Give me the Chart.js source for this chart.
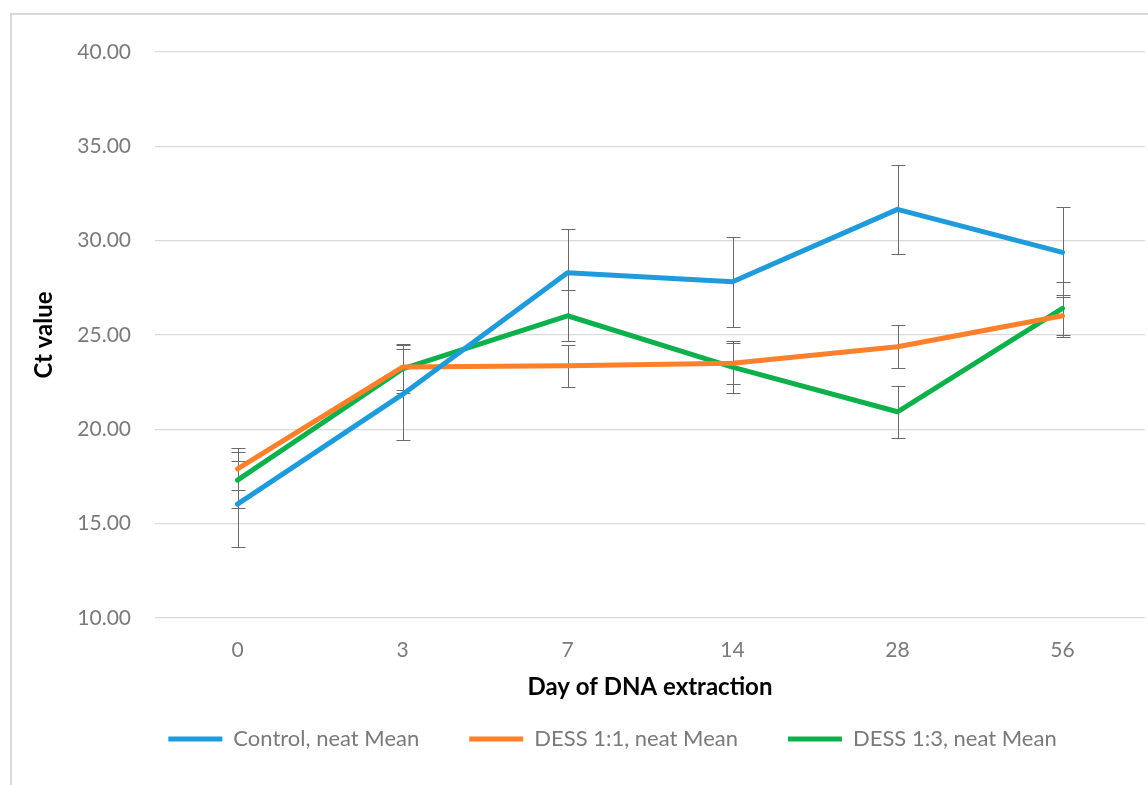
<!DOCTYPE html>
<html>
<head>
<meta charset="utf-8">
<script src="https://cdn.jsdelivr.net/npm/chart.js@4.4.0/dist/chart.umd.min.js"></script>
<style>
    html, body { margin: 0; padding: 0; background: #fff; overflow: hidden; }
    #wrap { position: relative; width: 1148px; height: 785px; }
    #frame { position: absolute; left: 10px; top: 13px; width: 1250px; height: 850px; border: 2px solid #d9d9d9; box-sizing: border-box; }
    #chart { position: absolute; left: 0; top: 0; }
</style>
</head>
<body>
<div id="wrap">
    <div id="frame"></div>
    <canvas id="chart" width="1148" height="785"></canvas>
</div>
<script>
// Day of extraction
const days = ['0', '3', '7', '14', '28', '56'];

// Mean Ct values and error bar half-widths
const controlMean = [16.04, 21.85, 28.30, 27.82, 31.66, 29.38];
const controlErr = [2.30, 2.40, 2.30, 2.37, 2.35, 2.38];
const dess11Mean = [17.90, 23.30, 23.37, 23.50, 24.38, 26.02];
const dess11Err = [1.10, 1.20, 1.10, 1.10, 1.13, 1.10];
const dess13Mean = [17.31, 23.20, 26.02, 23.30, 20.93, 26.41];
const dess13Err = [1.50, 1.25, 1.35, 1.40, 1.37, 1.40];

const yTicks = [10, 15, 20, 25, 30, 35, 40];

const FONT = 'Lato, "Open Sans", sans-serif';
const TEXT = '#7a7a7a';

// Draws the error bars under the lines
const errorBars = {
    id: 'errorBars',
    beforeDatasetsDraw(chart) {
        const { ctx, scales: { x, y } } = chart;
        ctx.save();
        ctx.strokeStyle = '#6a6a6a';
        ctx.lineWidth = 1;
        chart.data.datasets.forEach(ds => {
            ds.data.forEach((v, i) => {
                const px = Math.round(x.getPixelForValue(i)) + 0.5;
                const top = Math.round(y.getPixelForValue(v + ds.errors[i])) + 0.5;
                const bot = Math.round(y.getPixelForValue(v - ds.errors[i])) + 0.5;
                ctx.beginPath();
                ctx.moveTo(px, top);
                ctx.lineTo(px, bot);
                ctx.moveTo(px - 7, top);
                ctx.lineTo(px + 7, top);
                ctx.moveTo(px - 7, bot);
                ctx.lineTo(px + 7, bot);
                ctx.stroke();
            });
        });
        ctx.restore();
    }
};

// Legend sits a bit right of centre in the original
const legendShift = {
    id: 'legendShift',
    afterLayout(chart) {
        if (chart.legend) {
            chart.legend.left += 40;
            chart.legend.right += 40;
        }
    }
};

function makeSet(label, data, errors, color) {
    return {
        label: label,
        data: data,
        errors: errors,
        borderColor: color,
        backgroundColor: color,
        borderWidth: 5,
        borderCapStyle: 'round',
        borderJoinStyle: 'round',
        tension: 0,
        fill: false,
        pointRadius: 0,
        pointHoverRadius: 0,
        pointStyle: 'line'
    };
}

new Chart(document.getElementById('chart'), {
    type: 'line',
    data: {
        labels: days,
        datasets: [
            makeSet('Control, neat Mean', controlMean, controlErr, '#1f9bdb'),
            makeSet('DESS 1:1, neat Mean', dess11Mean, dess11Err, '#ff7f2a'),
            makeSet('DESS 1:3, neat Mean', dess13Mean, dess13Err, '#0db04b')
        ]
    },
    options: {
        responsive: false,
        animation: false,
        devicePixelRatio: 1,
        layout: {
            padding: { left: 0, top: 52, right: 3, bottom: 25 }
        },
        plugins: {
            tooltip: { enabled: false },
            legend: {
                display: true,
                position: 'bottom',
                labels: {
                    usePointStyle: true,
                    pointStyleWidth: 54,
                    padding: 50,
                    color: TEXT,
                    font: { family: FONT, size: 22 }
                }
            }
        },
        scales: {
            x: {
                offset: true,
                grid: { display: false, drawTicks: false },
                border: { display: false },
                ticks: {
                    color: TEXT,
                    padding: 20,
                    font: { family: FONT, size: 21 }
                },
                title: {
                    display: true,
                    text: 'Day of DNA extraction',
                    color: '#000',
                    padding: { top: 0, bottom: -24 },
                    font: { family: FONT, size: 24, weight: 'bold' }
                },
                afterFit: s => { s.height = 60; }
            },
            y: {
                min: 10,
                max: 40,
                afterBuildTicks: s => { s.ticks = yTicks.map(v => ({ value: v })); },
                grid: { color: '#d9d9d9', lineWidth: 1.3, drawTicks: false },
                border: { display: false },
                ticks: {
                    color: TEXT,
                    padding: 24,
                    font: { family: FONT, size: 21 },
                    callback: v => Number(v).toFixed(2)
                },
                title: {
                    display: true,
                    text: 'Ct value',
                    color: '#000',
                    padding: { top: 30, bottom: 0 },
                    font: { family: FONT, size: 24, weight: 'bold' }
                },
                afterFit: s => { s.width = 155; }
            }
        }
    },
    plugins: [errorBars, legendShift]
});
</script>
</body>
</html>
